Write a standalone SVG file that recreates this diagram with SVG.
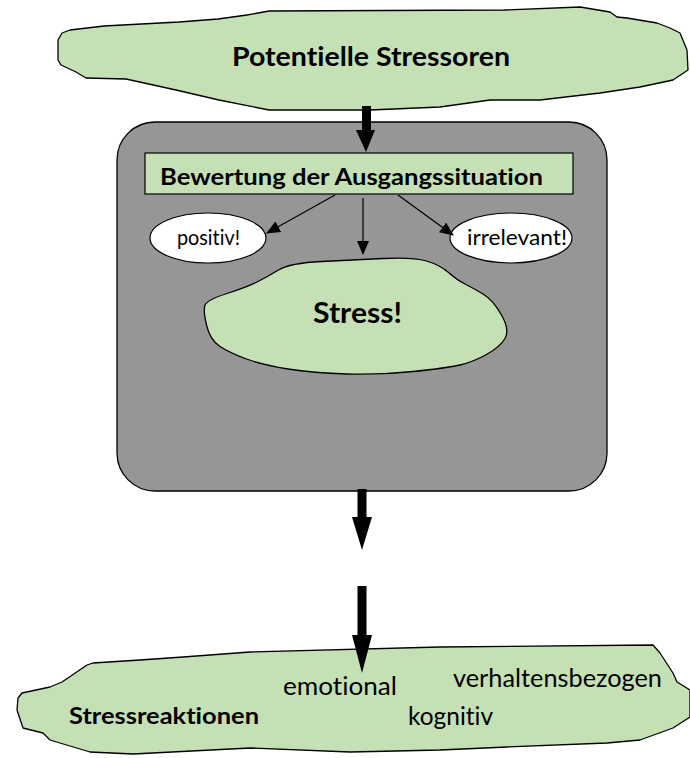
<svg xmlns="http://www.w3.org/2000/svg" width="690" height="758" viewBox="0 0 690 758">
<style>
.cloud{fill:#c5e0b4;stroke:#000;stroke-width:1.3;stroke-linejoin:round}
text{font-variant-ligatures:none;font-feature-settings:"liga" 0,"clig" 0}
.b{font-family:Lato,"Liberation Sans",Arial,sans-serif;font-weight:bold;fill:#000}
.r{font-family:Lato,"Liberation Sans",Arial,sans-serif;fill:#000}
.thin{stroke:#000;stroke-width:1.2;fill:none}
.thick{fill:#000;stroke:none}
</style>
<defs>
<marker id="ah" markerUnits="userSpaceOnUse" markerWidth="14" markerHeight="12" viewBox="0 0 14 12" refX="13" refY="6" orient="auto">
<path d="M0,0 L14,6 L0,12 Z" fill="#000"/>
</marker>
</defs>
<g id="stressoren">
<path class="cloud" d="M58,40 L62,33 L70,30 L104,26 L179,22 L218,19 L247,15 L269,11 L504,10 L580,7 L610,12 L617,17 L627,18 L657,23 L670,28 L680,33 L687,50 L688,70 L673,80 L640,87 L600,93 L540,100 L490,100 L440,107 L370,110 L269,110 L219,100 L176,90 L126,79 L86,78 L76,72 L61,65 L58,60 Z"/>
<text class="b" x="371" y="66" font-size="27" text-anchor="middle" textLength="278" lengthAdjust="spacingAndGlyphs">Potentielle Stressoren</text>
</g>
<g id="bewertungsbox">
<rect x="117" y="122" width="490" height="369" rx="38" ry="38" fill="#969696" stroke="#000" stroke-width="1.3"/>
</g>
<g id="bewertung">
<rect x="145" y="153" width="428" height="41" fill="#c5e0b4" stroke="#000" stroke-width="1.2"/>
<text class="b" x="160" y="185" font-size="23" textLength="383" lengthAdjust="spacingAndGlyphs">Bewertung der Ausgangssituation</text>
</g>
<g id="positiv">
<ellipse cx="208" cy="238" rx="58" ry="25" fill="#fff" stroke="#000" stroke-width="1.2"/>
<text class="r" x="208.5" y="245" font-size="21" text-anchor="middle" textLength="63" lengthAdjust="spacingAndGlyphs">positiv!</text>
</g>
<g id="irrelevant">
<ellipse cx="511" cy="238" rx="61" ry="25" fill="#fff" stroke="#000" stroke-width="1.2"/>
<text class="r" x="517" y="245" font-size="21" text-anchor="middle" textLength="100" lengthAdjust="spacingAndGlyphs">irrelevant!</text>
</g>
<g id="stress">
<path class="cloud" d="M257,282 Q267,277 278.5,270 Q290,263 321.5,261.5 Q353,260 383,258.5 Q413,257 426.5,261 Q440,265 448.5,272.5 Q457,280 465,284 Q473,288 483,294 Q493,300 501.5,315 Q510,330 505,338.5 Q500,347 486.5,354.5 Q473,362 460,365 Q447,368 413.5,371.5 Q380,375 346.5,374 Q313,373 288,369 Q263,365 246.5,359 Q230,353 220,346.5 Q210,340 206.5,325 Q203,310 205,305 Q207,300 227,293.5 Q247,287 257,282 Z"/>
<text class="b" x="357.5" y="323" font-size="28" text-anchor="middle" textLength="89" lengthAdjust="spacingAndGlyphs">Stress!</text>
</g>
<g id="stressreaktionen">
<path class="cloud" d="M17,710 L18,698 L22,693 L50,687 L62,682 L87,665 L93,663 L140,660 L183,657 L250,652 L440,647 L653,645 L660,653 L673,673 L677,682 L690,690 L690,717 L673,728 L640,740 L607,743 L507,747 L440,750 L350,752 L250,748 L133,754 L90,752 L50,740 L43,733 L23,728 Z"/>
<text class="b" x="69" y="724" font-size="23" textLength="190" lengthAdjust="spacingAndGlyphs">Stressreaktionen</text>
<text class="r" x="283" y="695" font-size="25" textLength="114" lengthAdjust="spacingAndGlyphs">emotional</text>
<text class="r" x="408" y="725" font-size="25" textLength="85" lengthAdjust="spacingAndGlyphs">kognitiv</text>
<text class="r" x="453" y="687" font-size="25" textLength="209" lengthAdjust="spacingAndGlyphs">verhaltensbezogen</text>
</g>
<g id="connectors">
<polygon class="thick" points="362,106 371,106 371,130 375,130 366,152 356,130 362,130"/>
<line class="thin" x1="335" y1="195" x2="267" y2="233" marker-end="url(#ah)"/>
<line class="thin" x1="363" y1="198" x2="363" y2="254" marker-end="url(#ah)"/>
<line class="thin" x1="398" y1="195" x2="453" y2="235" marker-end="url(#ah)"/>
<polygon class="thick" points="357.5,489 366.5,489 366.5,517 372,517 362,550 352,517 357.5,517"/>
<polygon class="thick" points="357.5,586 366.5,586 366.5,635 372,635 362,673 352,635 357.5,635"/>
</g>
</svg>
